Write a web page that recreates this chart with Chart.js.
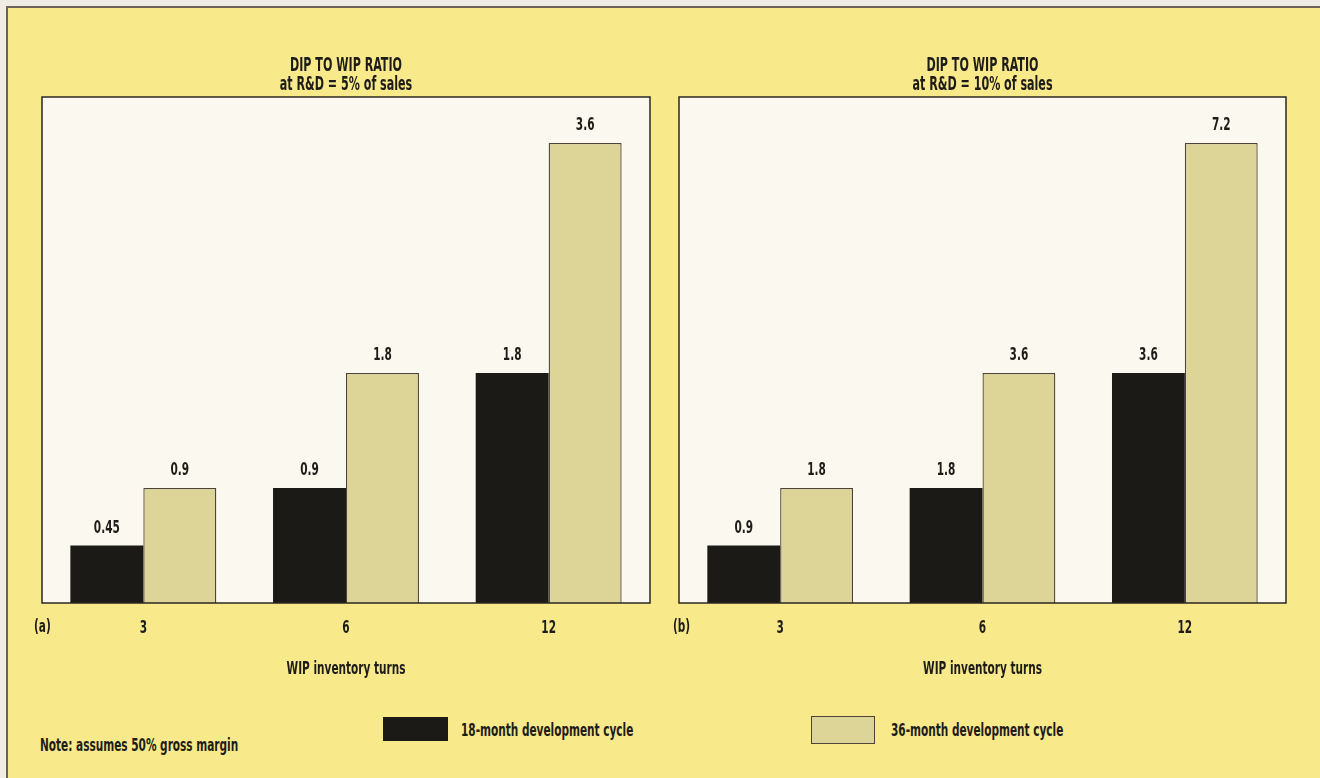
<!DOCTYPE html>
<html lang="en">
<head>
<meta charset="UTF-8">
<title>DIP to WIP ratio</title>
<script src="https://cdn.jsdelivr.net/npm/chart.js"></script>
<style>
  body { margin: 0; width: 1320px; height: 778px; overflow: hidden; position: relative; background: #efece4;
         font-family: "DejaVu Sans Condensed", "Liberation Sans Narrow", "Arial Narrow", sans-serif; }
  #frame { position: absolute; left: 6px; top: 6px; width: 1320px; height: 780px; background: #f8e98b;
           border-top: 2px solid #6b6357; border-left: 2px solid #6b6357; }
  canvas { position: absolute; top: 0; }
  .key { position: absolute; }
  .txt { position: absolute; font-weight: bold; font-size: 18px; line-height: 1; color: #1e1c18;
         transform-origin: left center; transform: translateY(-50%) scaleX(0.65); white-space: nowrap; }
</style>
</head>
<body>
<div id="frame"></div>
<canvas id="panelA" width="660" height="700" style="left:0"></canvas>
<canvas id="panelB" width="660" height="700" style="left:660px"></canvas>

<div class="key" style="left:383px;top:717px;width:65px;height:24px;background:#1b1a17"></div>
<div class="txt" style="left:461px;top:730px">18-month development cycle</div>
<div class="key" style="left:811px;top:716px;width:62px;height:26px;background:#dcd597;border:1.5px solid #4d4336"></div>
<div class="txt" style="left:891px;top:730px">36-month development cycle</div>
<div class="txt" style="left:40px;top:745px">Note: assumes 50% gross margin</div>

<script>
    const turns = ['3', '6', '12'];
    // panel (a): R&D = 5% of sales
    const ratio18At5 = [0.45, 0.9, 1.8];
    const ratio36At5 = [0.9, 1.8, 3.6];
    // panel (b): R&D = 10% of sales
    const ratio18At10 = [0.9, 1.8, 3.6];
    const ratio36At10 = [1.8, 3.6, 7.2];

    const FONT = '"DejaVu Sans Condensed", "Liberation Sans Narrow", "Arial Narrow", sans-serif';
    const INK = '#1e1c18';
    const SQUEEZE = 0.65;   // the printed figure uses a very narrow bold face

    // squeeze every text run horizontally around its anchor point
    const condense = {
        id: 'condense',
        beforeInit(chart) {
            const ctx = chart.ctx;
            const fill = ctx.fillText.bind(ctx);
            ctx.fillText = function (text, x, y) {
                ctx.save();
                ctx.translate(x, y);
                ctx.scale(SQUEEZE, 1);
                fill(text, 0, 0);
                ctx.restore();
            };
        }
    };

    // white plot box, its frame, bar value labels and the (a)/(b) tag
    const panelDecor = {
        id: 'panelDecor',
        beforeDraw(chart) {
            const { ctx, chartArea: a } = chart;
            ctx.save();
            ctx.fillStyle = '#faf8ef';
            ctx.fillRect(a.left, a.top, a.right - a.left, a.bottom - a.top);
            ctx.restore();
        },
        afterDatasetsDraw(chart, args, opts) {
            const { ctx, chartArea: a } = chart;
            ctx.save();
            ctx.strokeStyle = '#2b2722';
            ctx.lineWidth = 1.5;
            ctx.strokeRect(a.left, a.top, a.right - a.left, a.bottom - a.top);

            ctx.font = 'bold 18px ' + FONT;
            ctx.fillStyle = INK;
            ctx.textAlign = 'center';
            ctx.textBaseline = 'alphabetic';
            chart.data.datasets.forEach((ds, i) => {
                chart.getDatasetMeta(i).data.forEach((bar, j) => {
                    ctx.fillText(String(ds.data[j]), bar.x, bar.y - 13);
                });
            });

            ctx.textAlign = 'left';
            ctx.textBaseline = 'middle';
            ctx.fillText(opts.tag, opts.tagX, a.bottom + 24);
            ctx.restore();
        }
    };

    function makePanel(id, titleLines, s18, s36, yMax, tag, tagX, padLeft, padRight) {
        const font = { family: FONT, size: 18, weight: 'bold', lineHeight: 1.1 };
        return new Chart(document.getElementById(id), {
            type: 'bar',
            data: {
                labels: turns,
                datasets: [
                    { label: '18-month development cycle', data: s18, backgroundColor: '#1b1a17', borderWidth: 0 },
                    { label: '36-month development cycle', data: s36, backgroundColor: '#dcd597',
                      borderColor: '#4d4336', borderWidth: 1.3 }
                ]
            },
            options: {
                responsive: false,
                animation: false,
                layout: { padding: { left: padLeft, right: padRight, top: 0, bottom: 0 } },
                datasets: { bar: { categoryPercentage: 0.72, barPercentage: 1 } },
                plugins: {
                    legend: { display: false },
                    tooltip: { enabled: false },
                    title: { display: true, text: titleLines, color: INK,
                             font: { family: FONT, size: 19, weight: 'bold', lineHeight: 1.0 },
                             padding: { top: 57, bottom: 2 } },
                    panelDecor: { tag: tag, tagX: tagX }
                },
                scales: {
                    x: {
                        grid: { display: false },
                        border: { display: false },
                        ticks: { color: INK, font: font, padding: 7.5 },
                        title: { display: true, text: 'WIP inventory turns', color: INK, font: font,
                                 padding: { top: 0, bottom: 21 } },
                        afterFit(scale) { scale.height = 97; }
                    },
                    y: { display: false, min: 0, max: yMax }
                }
            },
            plugins: [condense, panelDecor]
        });
    }

    makePanel('panelA', ['DIP TO WIP RATIO', 'at R&D = 5% of sales'], ratio18At5, ratio36At5, 3.96, '(a)', 34, 42, 10);
    makePanel('panelB', ['DIP TO WIP RATIO', 'at R&D = 10% of sales'], ratio18At10, ratio36At10, 7.92, '(b)', 13, 19, 34);
</script>
</body>
</html>
